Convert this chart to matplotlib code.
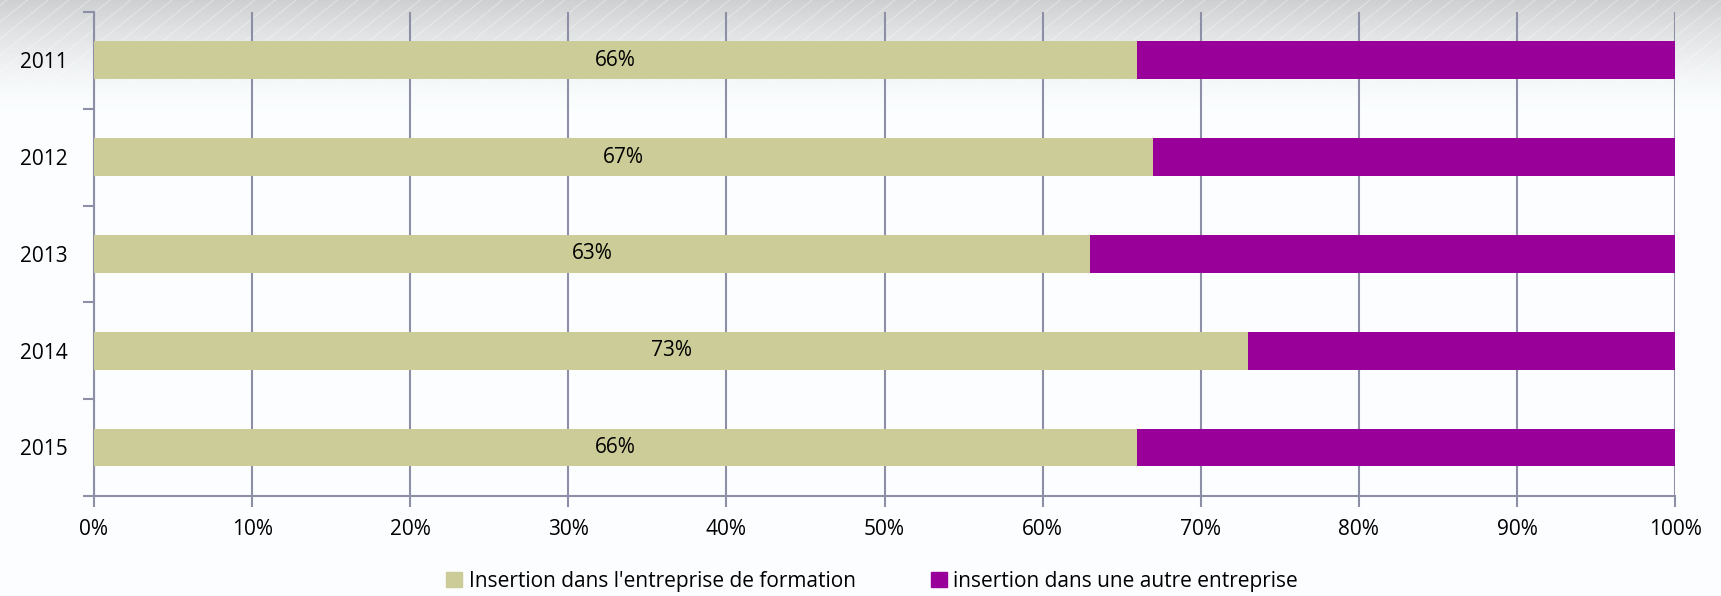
import matplotlib
matplotlib.use('Agg')
import matplotlib.pyplot as plt
import numpy as np
from matplotlib.patches import Patch

years = ['2011', '2012', '2013', '2014', '2015']
insertion_formation = [66, 67, 63, 73, 66]
insertion_autre = [34, 33, 37, 27, 34]
legend_labels = ["Insertion dans l'entreprise de formation",
                 "insertion dans une autre entreprise"]

beige = '#CCCC99'
purple = '#990099'
gridc = '#8C8FA6'
fs = 15

plt.rcParams['font.family'] = ['Open Sans', 'DejaVu Sans']

fig = plt.figure(figsize=(17.21, 5.96), dpi=100)

# background: grey-blue gradient at top with faint diagonal stripes
bg = fig.add_axes([0, 0, 1, 1], zorder=-10)
h = 596
grad = np.ones((h, 2))
yy = np.arange(h)
top = np.clip(1 - yy / 110.0, 0, 1)
grad[:, 0] = 1 - 0.18 * top ** 1.5
grad[:, 1] = grad[:, 0]
rgb = np.dstack([grad * 0.985, grad * 0.995, grad])
bg.imshow(rgb, extent=[0, 1, 0, 1], aspect='auto', origin='upper')
for x0 in np.arange(-0.2, 1.1, 0.012):
    bg.plot([x0, x0 + 0.06], [0.86, 1.0], color='white', lw=0.8, alpha=0.35)
bg.set_xlim(0, 1)
bg.set_ylim(0, 1)
bg.axis('off')

ax = fig.add_axes([0.0546, 0.168, 0.9187, 0.812])
ax.patch.set_alpha(0)
pos = np.arange(len(years))[::-1]
bh = 0.39
ax.barh(pos, insertion_formation, height=bh, color=beige, zorder=3)
ax.barh(pos, insertion_autre, left=insertion_formation, height=bh, color=purple, zorder=3)
for p, v in zip(pos, insertion_formation):
    ax.text(v / 2, p, '%d%%' % v, ha='center', va='center', fontsize=fs, zorder=4)

ax.set_xlim(0, 100)
ax.set_ylim(-0.5, len(years) - 0.5)
ax.set_xticks(np.arange(0, 101, 10))
ax.set_xticklabels(['%d%%' % v for v in range(0, 101, 10)], fontsize=fs)
ax.set_yticks(pos)
ax.set_yticklabels(years, fontsize=fs)
ax.set_yticks(np.arange(-0.5, len(years), 1), minor=True)
ax.tick_params(axis='y', which='major', length=0, pad=19)
ax.tick_params(axis='y', which='minor', length=8, color=gridc, width=1.5)
ax.tick_params(axis='x', length=8, color=gridc, width=1.5, pad=9)
ax.grid(axis='x', color=gridc, lw=1.5, zorder=1)
for s in ['top', 'right']:
    ax.spines[s].set_visible(False)
for s in ['left', 'bottom']:
    ax.spines[s].set_color(gridc)
    ax.spines[s].set_linewidth(1.5)

handles = [Patch(color=beige), Patch(color=purple)]
fig.legend(handles, legend_labels, loc='center left', bbox_to_anchor=(0.2545, 0.024),
           ncol=2, frameon=False, fontsize=fs, handlelength=0.77, handleheight=0.72,
           handletextpad=0.3, columnspacing=3.6, borderaxespad=0)

plt.savefig('out.png', dpi=100)
